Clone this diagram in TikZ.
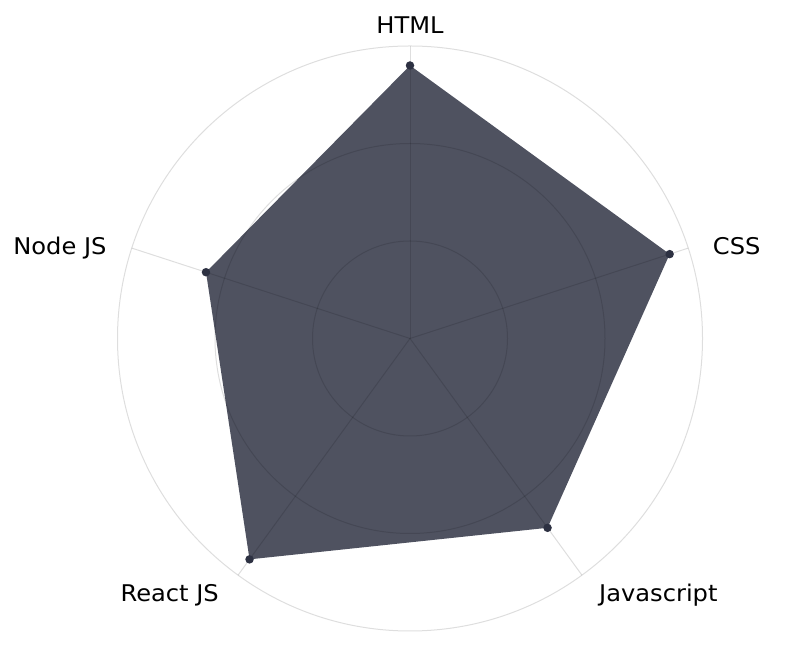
\documentclass[tikz,border=0pt]{standalone}
\usepackage{fontspec}
\setmainfont{DejaVu Sans}
\newfontfamily\labelfont[FakeStretch=1.05]{DejaVu Sans}
\usetikzlibrary{positioning}
\definecolor{skill}{HTML}{2D3142}
\tikzset{grid line/.style={black,opacity=0.13,line width=1pt},
  skill area/.style={fill=skill,fill opacity=0.84},
  skill dot/.style={circle,fill=skill,inner sep=0pt,minimum size=8.5pt},
  axis label/.style={font=\labelfont\fontsize{23}{28}\selectfont,inner sep=0pt}}

\begin{document}
\begin{tikzpicture}[x=1pt,y=1pt]
     \useasboundingbox (0,0) rectangle (800,655);
     \def\R{292.5}
     \coordinate (c) at (410,316.5);
     \foreach \name/\ang/\val in {html/90/14,css/18/14,js/-54/12,react/-126/14,node/162/11}
      \coordinate (\name) at ([shift={(\ang:{\val*\R/15})}]c);
     \fill[skill area] (html) -- (css) -- (js) -- (react) -- (node) -- cycle;
     \foreach \k in {1,2,3}
      \draw[grid line] (c) circle ({\k*\R/3});
     \foreach \ang in {90,18,-54,-126,162}
      \draw[grid line] (c) -- ++(\ang:\R);
     \foreach \name in {html,css,js,react,node}
      \node[skill dot] (\name dot) at (\name) {};
     \node[axis label,anchor=base] (html label) at (410,621) {HTML};
     \node[axis label,anchor=base west] (css label) at (712.7,400.7) {CSS};
     \node[axis label,anchor=base west] (js label) at (599,53) {Javascript};
     \node[axis label,anchor=base east] (react label) at (219,53) {React JS};
     \node[axis label,anchor=base east] (node label) at (106.7,400.7) {Node JS};
    \end{tikzpicture}
\end{document}
